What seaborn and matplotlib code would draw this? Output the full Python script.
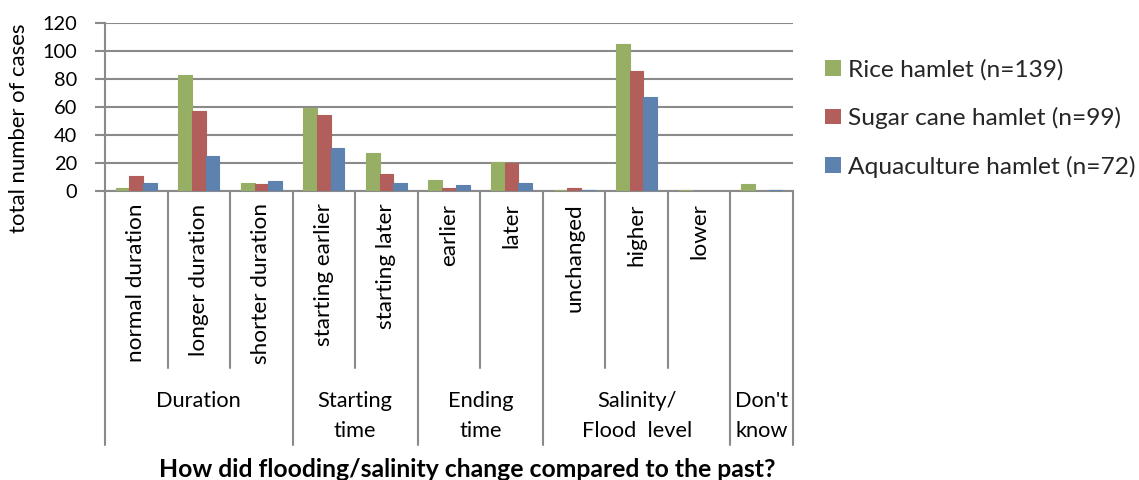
import matplotlib
matplotlib.use("Agg")
import matplotlib.pyplot as plt
import matplotlib.transforms as mtransforms
from matplotlib.lines import Line2D
import seaborn as sns
import pandas as pd
import numpy as np

categories = ["normal duration", "longer duration", "shorter duration",
              "starting earlier", "starting later", "earlier", "later",
              "unchanged", "higher", "lower", ""]
rice = [2, 83, 6, 59, 27, 8, 21, 1, 105, 1, 5]
sugar = [11, 57, 5, 54, 12, 2, 20, 2, 86, 0, 0]
aqua = [6, 25, 7, 31, 6, 4, 6, 1, 67, 0, 1]
series_names = ["Rice hamlet (n=139)", "Sugar cane hamlet (n=99)", "Aquaculture hamlet (n=72)"]
groups = ["Duration", "Starting\ntime", "Ending\ntime", "Salinity/\nFlood  level", "Don't\nknow"]
group_sizes = [3, 2, 2, 3, 1]
yticks = [0, 20, 40, 60, 80, 100, 120]
colors = ["#9BBB59", "#C0504D", "#4F81BD"]
xlabel = "How did flooding/salinity change compared to the past?"
ylabel = "total number of cases"

sns.set_theme(style="white")
plt.rcParams['font.family'] = ['Lato', 'DejaVu Sans']

W, H = 1139, 480
fig = plt.figure(figsize=(W / 100, H / 100), dpi=100)
renderer = fig.canvas.get_renderer()


def fit(s, target_px, **kw):
    t = fig.text(0, 0, s, fontsize=10, **kw)
    w = t.get_window_extent(renderer=renderer).width
    t.remove()
    return 10 * target_px / w


def fx(x):
    return x / W


def fy(y):
    return 1 - y / H


fs_ytick = fit("120", 35)
fs_group = fit("Starting", 75)
fs_xtick = fs_group * 1.03
fs_legend = fit(series_names[0], 215)
fs_xlabel = fit(xlabel, 618, fontweight="bold")
fs_ylabel = fit(ylabel, 210)

cat_ids = [f"c{i}" for i in range(len(categories))]
df = pd.DataFrame({
    "cat": cat_ids * 3,
    "value": rice + sugar + aqua,
    "series": np.repeat(series_names, len(categories)),
})

x0, x1, ytop, y0 = 105, 793, 23, 191
ax = fig.add_axes([fx(x0), fy(y0), (x1 - x0) / W, (y0 - ytop) / H])

sns.barplot(data=df, x="cat", y="value", hue="series", order=cat_ids,
            hue_order=series_names, palette=colors, width=0.656, gap=0,
            linewidth=0, ax=ax, legend=True)
for p in ax.patches:
    if p.get_height() > 0:
        p.set_edgecolor(p.get_facecolor())
        p.set_linewidth(0.8)
        p.set_zorder(3)

ax.set_ylim(0, 120)
ax.set_xlim(-0.5, len(categories) - 0.5)
ax.set_yticks(yticks)
ax.set_yticklabels([str(t) for t in yticks], fontsize=fs_ytick, color="black")
ax.yaxis.grid(True, color="#8a8a8a", linewidth=1.5)
ax.set_axisbelow(True)
for s in ["top", "right"]:
    ax.spines[s].set_visible(False)
for s in ["left", "bottom"]:
    ax.spines[s].set_color("#8a8a8a")
    ax.spines[s].set_linewidth(1.5)
ax.tick_params(axis="y", length=7.2, width=1.5, color="#8a8a8a", left=True, pad=13)

ax.set_xticks(range(len(categories)))
ax.set_xticklabels(categories, rotation=90, fontsize=fs_xtick, va="top", ha="center",
                   color="black")
ax.tick_params(axis="x", length=0, pad=9)
ax.set_xlabel("")
ax.set_ylabel("")

trans = mtransforms.blended_transform_factory(ax.transData, ax.transAxes)
px = 1.0 / (y0 - ytop)
short_end = -(368 - y0) * px
long_end = -(445 - y0) * px
bounds = np.cumsum([0] + group_sizes)
group_edges = set(bounds.tolist())
for b in range(len(categories) + 1):
    end = long_end if b in group_edges else short_end
    ax.add_line(Line2D([b - 0.5, b - 0.5], [0, end], transform=trans,
                       color="#8a8a8a", linewidth=1.5, clip_on=False))

baselines = [407, 437]
for g, start, size in zip(groups, bounds[:-1], group_sizes):
    center = start + size / 2 - 0.5
    for line, bl in zip(g.split("\n"), baselines):
        ax.text(center, -(bl - y0) * px, line, transform=trans, ha="center",
                va="baseline", fontsize=fs_group, color="black")

fig.text(fx(467), fy(477), xlabel, ha="center", va="baseline",
         fontsize=fs_xlabel, fontweight="bold", color="black")
fig.text(fx(19), fy(128), ylabel, rotation=90, ha="center", va="center",
         fontsize=fs_ylabel, color="black")

fpx = fs_legend * 100 / 72
ax.legend(loc="upper left", bbox_to_anchor=(fx(825), fy(74 - 0.62 * fpx)),
          bbox_transform=fig.transFigure, frameon=False, fontsize=fs_legend,
          borderpad=0, borderaxespad=0,
          handlelength=15.7 / fpx, handleheight=15 / fpx,
          handletextpad=7 / fpx, labelspacing=56.5 / fpx - 1.22)

fig.savefig("out.png", dpi=100)
